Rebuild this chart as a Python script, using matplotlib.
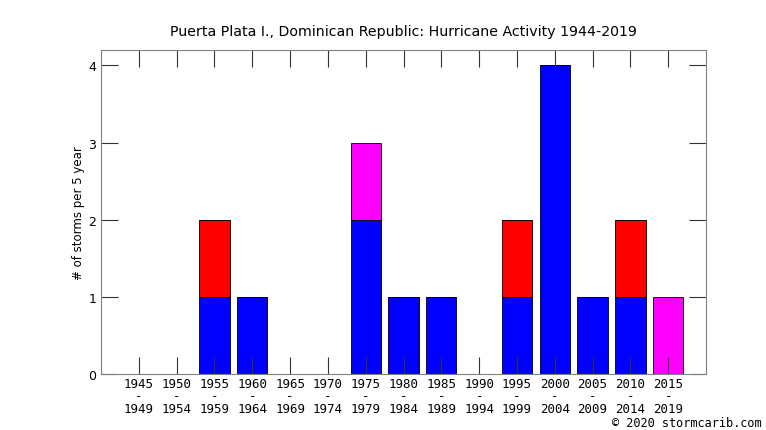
import numpy as np
import matplotlib
matplotlib.use('Agg')
import matplotlib.pyplot as plt

starts = [1945, 1950, 1955, 1960, 1965, 1970, 1975, 1980, 1985, 1990, 1995, 2000, 2005, 2010, 2015]
blue = [0, 0, 1, 1, 0, 0, 2, 1, 1, 0, 1, 4, 1, 1, 0]
red = [0, 0, 1, 0, 0, 0, 0, 0, 0, 0, 1, 0, 0, 1, 0]
magenta = [0, 0, 0, 0, 0, 0, 1, 0, 0, 0, 0, 0, 0, 0, 1]

labels = [f'{s}\n-\n{s + 4}' for s in starts]
x = np.arange(len(starts))
blue = np.array(blue)
red = np.array(red)
magenta = np.array(magenta)

fig = plt.figure(figsize=(7.66, 4.31), dpi=100)
ax = fig.add_axes([101 / 766, 1 - 375 / 431, 605 / 766, 324 / 431])

kw = dict(width=0.8, edgecolor='black', linewidth=0.6)
ax.bar(x, blue, color='#0000ff', **kw)
ax.bar(x, red, bottom=blue, color='#ff0000', **kw)
ax.bar(x, magenta, bottom=blue + red, color='#ff00ff', **kw)

ax.set_xlim(-1, 15)
ax.set_ylim(0, 4.2)
ax.set_xticks(x)
ax.set_xticklabels(labels, family='DejaVu Sans Mono', fontsize=9, linespacing=0.95)
ax.set_yticks([0, 1, 2, 3, 4])
ax.tick_params(axis='both', direction='in', length=12, width=0.8, color='#333333',
               top=True, right=True, labelsize=9)
ax.tick_params(axis='x', pad=2)
for s in ax.spines.values():
    s.set_color('#808080')
    s.set_linewidth(0.8)

ax.set_ylabel('# of storms per 5 year', fontsize=8.5, labelpad=2)
ax.set_title('Puerta Plata I., Dominican Republic: Hurricane Activity 1944-2019', fontsize=10.2, pad=11)
fig.text(762 / 766, 1 - 424 / 431, '\u00a9 2020 stormcarib.com', family='DejaVu Sans Mono',
         fontsize=8.6, ha='right', va='center')

fig.savefig('out.png', dpi=100)
